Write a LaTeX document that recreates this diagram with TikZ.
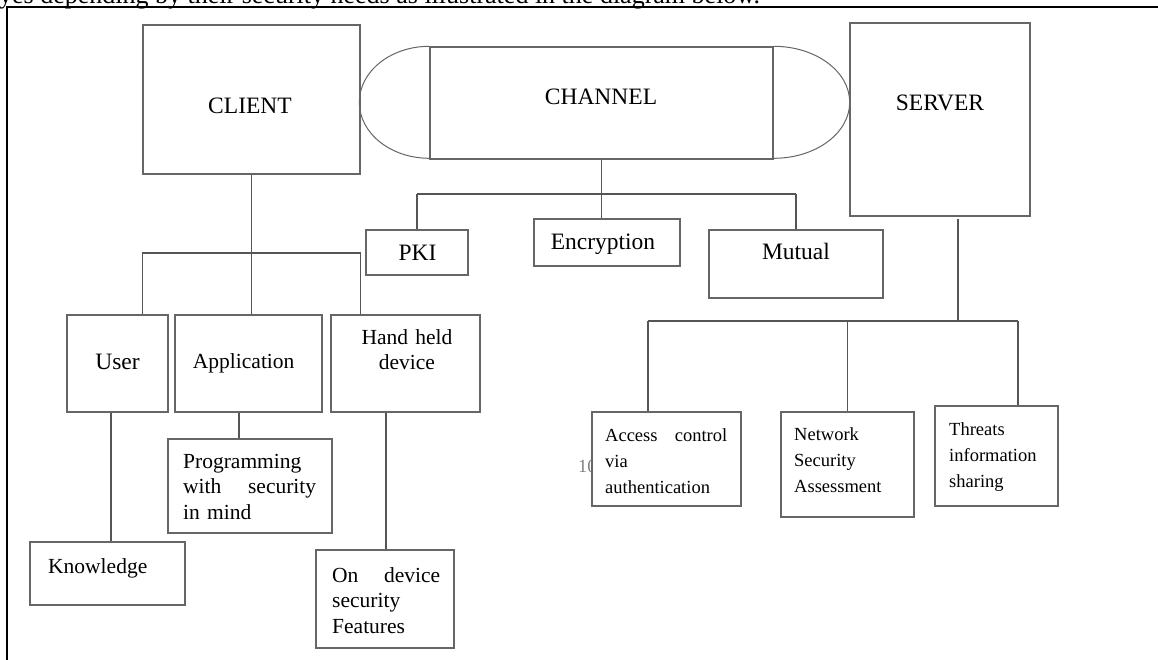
\documentclass[tikz,border=0pt]{standalone}
\usepackage{fontspec}
\setmainfont{Liberation Serif}
\usetikzlibrary{fit}
\definecolor{boxc}{HTML}{666666}
\definecolor{linec}{HTML}{555555}
\newcommand{\spreadline}[3]{\leavevmode\hbox to #1{#2\hfil #3}}
\begin{document}
\begin{tikzpicture}[x=1pt,y=-1pt,
  bx/.style={draw=boxc, line width=1.4pt, inner sep=0pt, fill=white},
  conn/.style={draw=linec, line width=1.3pt},
  arcst/.style={draw=boxc, line width=1pt},
  big/.style={font=\fontsize{23.5}{28}\selectfont, inner sep=0pt},
  mid/.style={font=\fontsize{21.5}{25.5}\selectfont, inner sep=0pt},
  sml/.style={font=\fontsize{18.5}{26}\selectfont, inner sep=0pt},
]
\clip (0,0) rectangle (1158,660);
\fill[white] (0,0) rectangle (1158,660);

% heading sentence (cut off at the top)
\node[font=\fontsize{26}{28}\selectfont, inner sep=0pt, anchor=base west] (ttop) at (-1,4) {yes depending by their security needs as illustrated in the diagram below.};
% frame
\draw[black, line width=2pt] (7,660) -- (7,7) -- (1158,7);

% stray page number
\node[font=\fontsize{18.5}{20}\selectfont, text=gray, inner sep=0pt, anchor=base west] (pnum) at (578,472) {10};

% connectors: client
\coordinate (cb) at (250,253);
\coordinate (uk) at (111,0);
\coordinate (ap) at (239,0);
\coordinate (hd) at (386,0);
% connectors: channel
\coordinate (chb) at (603,194);
% connectors: server
\coordinate (sv) at (958,219);
\coordinate (sb) at (958,321);
\coordinate (sl) at (648,321);
\coordinate (sr) at (1018,321);

% boxes
\node[bx, fit={(143,25) (360,174)}] (client) {};
\node[bx, fit={(430,47) (773,159)}] (chan) {};
\node[bx, fit={(850,23) (1030,216)}] (server) {};
\node[bx, fit={(366,230) (468,275)}] (pki) {};
\node[bx, fit={(534,219) (680,266)}] (enc) {};
\node[bx, fit={(709,230) (883,298)}] (mutual) {};
\node[bx, fit={(67,315) (168,412)}] (user) {};
\node[bx, fit={(175,315) (322,412)}] (app) {};
\node[bx, fit={(331,315) (480,412)}] (hand) {};
\node[bx, fit={(168,439) (332,533)}] (prog) {};
\node[bx, fit={(30,542) (185,605)}] (know) {};
\node[bx, fit={(316,550) (454,648)}] (ondev) {};
\node[bx, fit={(592,412) (741,506)}] (access) {};
\node[bx, fit={(781,412) (914,517)}] (network) {};
\node[bx, fit={(935,406) (1058,506)}] (threats) {};

% channel end caps
\draw[arcst] (chan.north west) arc[start angle=90, end angle=270, x radius=70pt, y radius=56pt];
\draw[arcst] (chan.north east) arc[start angle=90, end angle=-90, x radius=76pt, y radius=56pt];

% client tree
\draw[conn] (client.south) -- (client.south |- app.north);
\draw[conn] (client.south west |- cb) -- (client.south east |- cb);
\draw[conn] (client.south west |- cb) -- (client.south west |- user.north);
\draw[conn] (client.south east |- cb) -- (client.south east |- hand.north);
\draw[conn] (uk |- user.south) -- (uk |- know.north);
\draw[conn] (ap |- app.south) -- (ap |- prog.north);
\draw[conn] (hd |- hand.south) -- (hd |- ondev.north);

% channel tree
\draw[conn] (chan.south) -- (chan.south |- enc.north);
\draw[conn] (pki.north |- chb) -- (mutual.north |- chb);
\draw[conn] (pki.north |- chb) -- (pki.north);
\draw[conn] (mutual.north |- chb) -- (mutual.north);

% server tree
\draw[conn] (sv) -- (sb);
\draw[conn] (sl) -- (sr);
\draw[conn] (sl) -- (sl |- access.north);
\draw[conn] (network.north |- sb) -- (network.north);
\draw[conn] (sr) -- (sr |- threats.north);

% labels
\node[big, anchor=base] (tclient) at (250,114) {CLIENT};
\node[big, anchor=base] (tchan) at (601,105) {CHANNEL};
\node[big, anchor=base] (tserver) at (940,111) {SERVER};
\node[big, anchor=base] (tpki) at (417.5,260) {PKI};
\node[big, anchor=base] (tenc) at (603,250) {Encryption};
\node[big, anchor=base] (tmut) at (796,259) {Mutual};
\node[big, anchor=base] (tuser) at (117.5,369) {User};
\node[mid, anchor=base] (tapp) at (243.7,368) {Application};
\node[mid, anchor=base west, text width=110pt, align=center] (thand) at (351.7,344) {Hand held\\device};
\node[mid, anchor=base west] (tknow) at (48,573) {Knowledge};
\node[mid, anchor=base west, text width=133pt, align=left] (tprog) at (183,468) {Programming\\\spreadline{133pt}{with}{security}\\in mind};
\node[mid, anchor=base west, text width=108pt, align=left] (tondev) at (332,582) {\spreadline{108pt}{On}{device}\\security\\Features};
\node[sml, anchor=base west, text width=122pt, align=left] (tacc) at (605,441) {\spreadline{122pt}{Access}{control}\\via\\authentication};
\node[sml, anchor=base west, text width=110pt, align=left] (tnet) at (794,440) {Network\\Security\\Assessment};
\node[sml, anchor=base west, text width=105pt, align=left] (tthr) at (949,435) {Threats\\information\\sharing};
\end{tikzpicture}
\end{document}
